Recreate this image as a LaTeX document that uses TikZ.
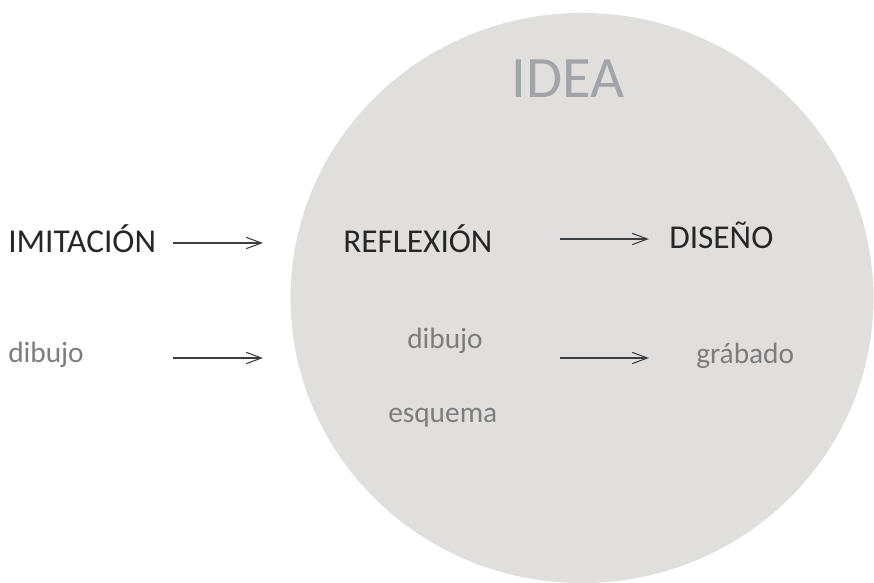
\documentclass[tikz,border=0pt]{standalone}
\usepackage{fontspec}
\setmainfont{Carlito}
\usepackage{tikz}
\usetikzlibrary{arrows.meta}
\definecolor{circlegray}{RGB}{224, 223, 222}
\definecolor{ideagray}{RGB}{162, 164, 167}
\definecolor{textdark}{RGB}{38, 38, 38}
\definecolor{textgray}{RGB}{125, 125, 125}
\definecolor{arrowgray}{RGB}{60, 62, 64}
\tikzset{
    bigword/.style={anchor=base west,inner sep=0pt,color=textdark,font=\fontsize{25}{30}\selectfont},
    smallword/.style={anchor=base west,inner sep=0pt,color=textgray,font=\fontsize{22}{26}\selectfont},
    flecha/.style={draw=arrowgray,line width=0.8pt,-{Straight Barb[length=11.5pt,width=8.5pt,line width=0.8pt]}}
}

\begin{document}
\begin{tikzpicture}[x=0.75pt,y=-0.75pt]
    \useasboundingbox (0,0) rectangle (874,582);

    % Big circle
    \fill[circlegray] (582,298) ellipse [x radius=218.6pt,y radius=213.8pt];

    % Title
    \node[anchor=base west,inner sep=0pt,color=ideagray,font=\fontsize{44}{50}\selectfont] (idea) at (511,97) {IDEA};

    % Upper row
    \node[bigword] (imitacion) at (8,252) {IMITACIÓN};
    \node[bigword] (reflexion) at (343,252) {REFLEXIÓN};
    \node[bigword] (diseno) at (669,248) {DISEÑO};

    % Lower row
    \node[smallword] (dibujoA) at (8,362) {dibujo};
    \node[smallword] (dibujoB) at (407,348) {dibujo};
    \node[smallword] (esquema) at (388,422) {esquema};
    \node[smallword] (grabado) at (696,363) {grábado};

    % Arrow ends
    \coordinate (a1s) at (173,243);
    \coordinate (a1e) at (263,243);
    \coordinate (a2s) at (560,239);
    \coordinate (a2e) at (649,239);
    \coordinate (a3s) at (173,358);
    \coordinate (a3e) at (263,358);
    \coordinate (a4s) at (560,358);
    \coordinate (a4e) at (649,358);

    % Arrows
    \draw[flecha] (a1s) -- (a1e);
    \draw[flecha] (a2s) -- (a2e);
    \draw[flecha] (a3s) -- (a3e);
    \draw[flecha] (a4s) -- (a4e);
\end{tikzpicture}
\end{document}
